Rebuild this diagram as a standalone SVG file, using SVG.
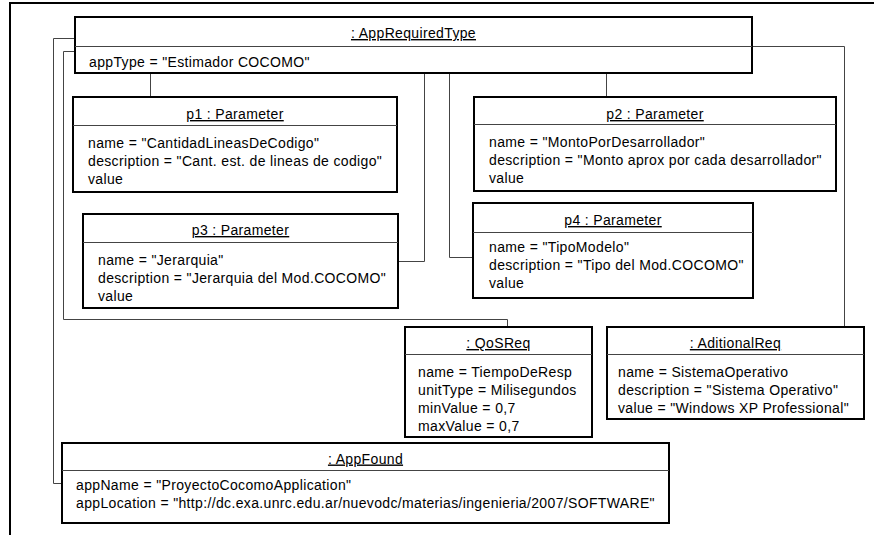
<svg xmlns="http://www.w3.org/2000/svg" width="874" height="535" viewBox="0 0 874 535">
  <style>
    .box { fill: #ffffff; stroke: #000000; stroke-width: 2; }
    .div { stroke: #444444; stroke-width: 1; }
    .link { fill: none; stroke: #444444; stroke-width: 1; }
    .frame { fill: none; stroke: #000000; stroke-width: 2; }
    text { font-family: "Liberation Sans", Arial, sans-serif; font-size: 14px; letter-spacing: 0.35px; fill: #000000; }
    .title { text-anchor: middle; text-decoration: underline; }
  </style>
  <rect x="0" y="0" width="874" height="535" fill="#ffffff"/>
  <!-- window frame -->
  <path class="frame" d="M10,535 V3 H874"/>

  <!-- links between objects -->
  <g id="connectors">
    <path class="link" d="M75.5,38.5 H53.5 V483.5 H62"/>
    <path class="link" d="M75.5,51.5 H63.5 V319.5 H507.5 V327"/>
    <path class="link" d="M150.5,73 V97"/>
    <path class="link" d="M424.5,73 V261.5 H398"/>
    <path class="link" d="M449.5,73 V257.5 H473"/>
    <path class="link" d="M606.5,73 V97"/>
    <path class="link" d="M752,46.5 H844.5 V327"/>
  </g>

  <g id="appRequiredType">
    <rect class="box" x="75" y="17" width="677" height="56"/>
    <line class="div" x1="75" y1="46.5" x2="752" y2="46.5"/>
    <text class="title" x="413.5" y="38">: AppRequiredType</text>
    <text x="89" y="67">appType = "Estimador COCOMO"</text>
  </g>

  <g id="p1">
    <rect class="box" x="73" y="97" width="324" height="95"/>
    <line class="div" x1="73" y1="125.5" x2="397" y2="125.5"/>
    <text class="title" x="235" y="119">p1 : Parameter</text>
    <text x="88" y="148">name = "CantidadLineasDeCodigo"</text>
    <text x="88" y="166">description = "Cant. est. de lineas de codigo"</text>
    <text x="88" y="184">value</text>
  </g>

  <g id="p2">
    <rect class="box" x="474" y="97" width="362" height="94"/>
    <line class="div" x1="474" y1="124.5" x2="836" y2="124.5"/>
    <text class="title" x="655" y="119">p2 : Parameter</text>
    <text x="489" y="146.5">name = "MontoPorDesarrollador"</text>
    <text x="489" y="164.5">description = "Monto aprox por cada desarrollador"</text>
    <text x="489" y="182.5">value</text>
  </g>

  <g id="p3">
    <rect class="box" x="83" y="214" width="315" height="94"/>
    <line class="div" x1="83" y1="242.5" x2="398" y2="242.5"/>
    <text class="title" x="240.5" y="235">p3 : Parameter</text>
    <text x="98" y="265">name = "Jerarquia"</text>
    <text x="98" y="283">description = "Jerarquia del Mod.COCOMO"</text>
    <text x="98" y="301">value</text>
  </g>

  <g id="p4">
    <rect class="box" x="473" y="203" width="280" height="95"/>
    <line class="div" x1="473" y1="232.5" x2="753" y2="232.5"/>
    <text class="title" x="613" y="225">p4 : Parameter</text>
    <text x="489" y="252">name = "TipoModelo"</text>
    <text x="489" y="270">description = "Tipo del Mod.COCOMO"</text>
    <text x="489" y="288">value</text>
  </g>

  <g id="qosReq">
    <rect class="box" x="405" y="327" width="187" height="110"/>
    <line class="div" x1="405" y1="354.5" x2="592" y2="354.5"/>
    <text class="title" x="498.5" y="348">: QoSReq</text>
    <text x="418" y="377">name = TiempoDeResp</text>
    <text x="418" y="395">unitType = Milisegundos</text>
    <text x="418" y="413">minValue = 0,7</text>
    <text x="418" y="431">maxValue = 0,7</text>
  </g>

  <g id="aditionalReq">
    <rect class="box" x="607" y="327" width="257" height="92"/>
    <line class="div" x1="607" y1="354.5" x2="864" y2="354.5"/>
    <text class="title" x="735.5" y="348">: AditionalReq</text>
    <text x="618" y="377">name = SistemaOperativo</text>
    <text x="618" y="395">description = "Sistema Operativo"</text>
    <text x="618" y="413">value = "Windows XP Professional"</text>
  </g>

  <g id="appFound">
    <rect class="box" x="62" y="443" width="607" height="80"/>
    <line class="div" x1="62" y1="470.5" x2="669" y2="470.5"/>
    <text class="title" x="365.5" y="463.5">: AppFound</text>
    <text x="76" y="490">appName = "ProyectoCocomoApplication"</text>
    <text x="76" y="508">appLocation = "http://dc.exa.unrc.edu.ar/nuevodc/materias/ingenieria/2007/SOFTWARE"</text>
  </g>
</svg>
